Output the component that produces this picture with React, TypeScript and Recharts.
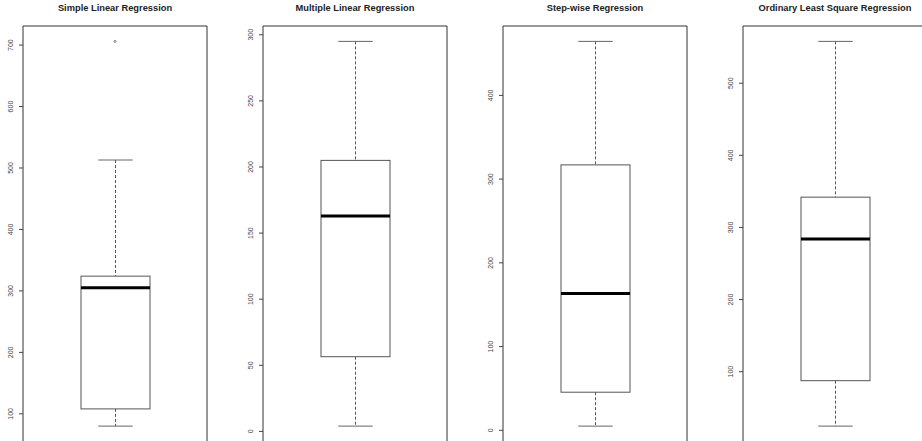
import { ComposedChart, Bar, Scatter, XAxis, YAxis, ReferenceArea } from "recharts";

const titles = [
  "Simple Linear Regression",
  "Multiple Linear Regression",
  "Step-wise Regression",
  "Ordinary Least Square Regression",
];
const lowWhiskers = [80, 4, 5, 24.5];
const lowerQuartiles = [108, 56.5, 45.5, 87.5];
const medians = [305, 163, 163.5, 284];
const upperQuartiles = [324, 205, 317, 342];
const highWhiskers = [513, 295, 464.5, 558];
const outliers: number[][] = [[706], [], [], []];
const yTicks = [
  [100, 200, 300, 400, 500, 600, 700],
  [0, 50, 100, 150, 200, 250, 300],
  [0, 100, 200, 300, 400],
  [100, 200, 300, 400, 500],
];

// R pads the data range by 4% on each side
function rangeOf(i: number): [number, number] {
  const vals = [lowWhiskers[i], highWhiskers[i], ...outliers[i]];
  const lo = Math.min(...vals);
  const hi = Math.max(...vals);
  const pad = (hi - lo) * 0.04;
  return [lo - pad, hi + pad];
}

function BoxShape(props: any) {
  const { x, y, width, height, payload } = props;
  const top = Math.min(y, y + height);
  const bottom = Math.max(y, y + height);
  const span = payload.hi - payload.lo;
  const py = (v: number) => bottom - ((v - payload.lo) / span) * (bottom - top);
  const cx = x + width / 2;
  const cap = width / 4;
  const q1 = py(payload.q1);
  const q3 = py(payload.q3);
  return (
    <g>
      <line x1={cx} x2={cx} y1={top} y2={q3} stroke="#555" strokeDasharray="3 2" />
      <line x1={cx} x2={cx} y1={q1} y2={bottom} stroke="#555" strokeDasharray="3 2" />
      <line x1={cx - cap} x2={cx + cap} y1={top} y2={top} stroke="#666" />
      <line x1={cx - cap} x2={cx + cap} y1={bottom} y2={bottom} stroke="#666" />
      <rect x={x} y={q3} width={width} height={q1 - q3} fill="#fff" stroke="#555" />
      <line x1={x} x2={x + width} y1={py(payload.med)} y2={py(payload.med)} stroke="#000" strokeWidth={3} />
    </g>
  );
}

function RotatedTick(props: any) {
  const { x, y, payload } = props;
  return (
    <text
      x={x - 3.5}
      y={y}
      transform={`rotate(-90, ${x - 3.5}, ${y})`}
      textAnchor="middle"
      fontSize={7}
      fill="#444"
      fontFamily="'Liberation Sans', Arial, sans-serif"
    >
      {payload.value}
    </text>
  );
}

function Panel({ i }: { i: number }) {
  const domain = rangeOf(i);
  const data = [
    {
      name: "box",
      lo: lowWhiskers[i],
      q1: lowerQuartiles[i],
      med: medians[i],
      q3: upperQuartiles[i],
      hi: highWhiskers[i],
    },
  ];
  const outData = outliers[i].map(v => ({ name: "box", out: v }));

  return (
    <div style={{ position: "absolute", left: 240 * i, top: 0, width: 240, height: 446 }}>
      <div
        style={{
          position: "absolute",
          left: 23,
          top: 4,
          width: 184,
          textAlign: "center",
          fontSize: 9.3,
          lineHeight: 1,
          fontWeight: "bold",
          color: "#222",
          fontFamily: "'Liberation Sans', Arial, sans-serif",
          whiteSpace: "nowrap",
        }}
      >
        {titles[i]}
      </div>
      <ComposedChart width={240} height={446} data={data} margin={{ top: 26, right: 33, bottom: 4.5, left: 0 }}>
        <XAxis dataKey="name" type="category" allowDuplicatedCategory={false} hide height={0} />
        <YAxis
          type="number"
          domain={domain}
          ticks={yTicks[i]}
          allowDataOverflow
          interval={0}
          width={23}
          tickSize={4}
          axisLine={false}
          tickLine={{ stroke: "#444" }}
          tick={<RotatedTick />}
        />
        <ReferenceArea y1={domain[0]} y2={domain[1]} fill="none" stroke="#333" strokeWidth={1} ifOverflow="visible" />
        <Bar dataKey={(d: any) => [d.lo, d.hi]} barSize={69} shape={<BoxShape />} isAnimationActive={false} />
        {outData.length > 0 && (
          <Scatter
            data={outData}
            dataKey="out"
            isAnimationActive={false}
            shape={(p: any) => <circle cx={p.cx} cy={p.cy} r={1} fill="none" stroke="#666" strokeWidth={0.8} />}
          />
        )}
      </ComposedChart>
    </div>
  );
}

export default function App() {
  return (
    <div
      style={{
        position: "absolute",
        left: 0,
        top: 0,
        width: 922,
        height: 441,
        overflow: "hidden",
        background: "#fff",
      }}
    >
      {titles.map((_, i) => (
        <Panel key={i} i={i} />
      ))}
    </div>
  );
}
